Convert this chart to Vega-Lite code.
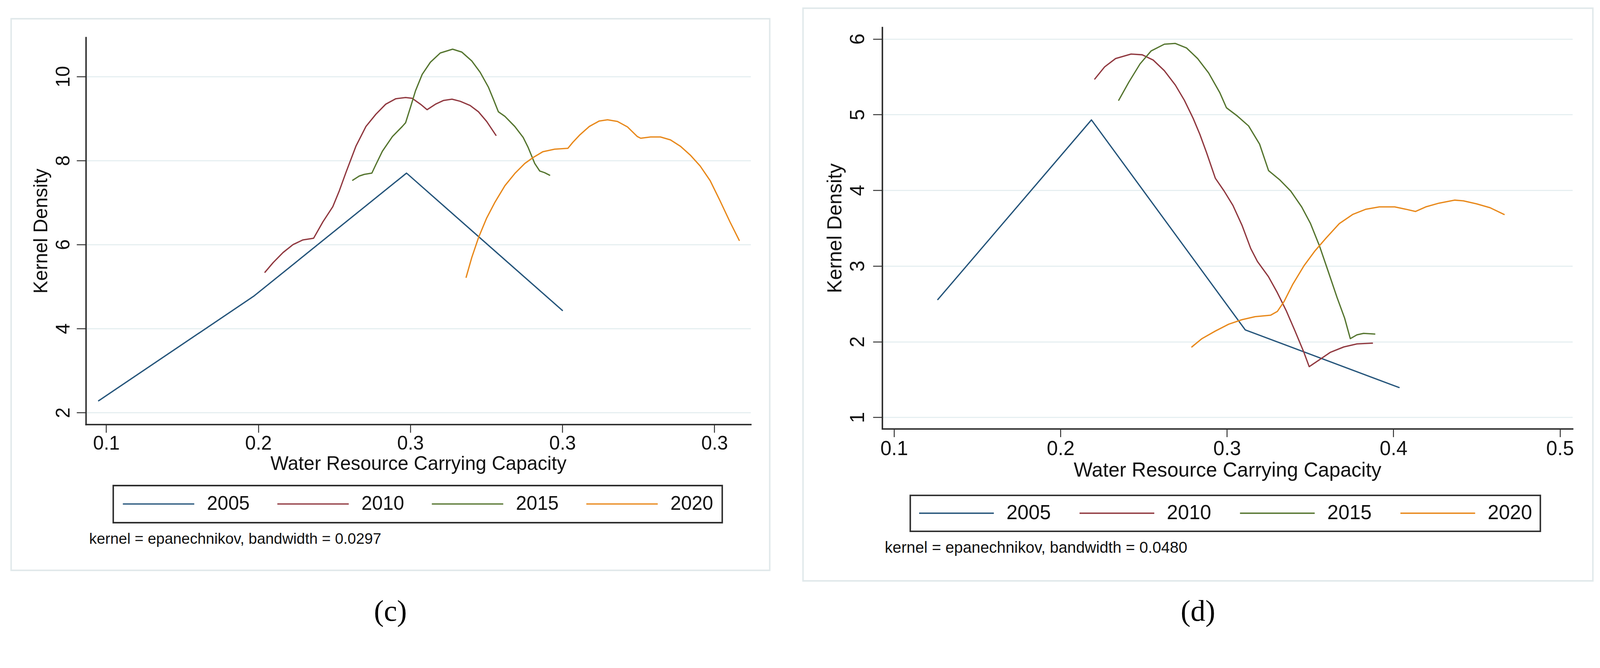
{
  "$schema": "https://vega.github.io/schema/vega-lite/v6.json",
  "background": "white",
  "padding": {"left": 26.5, "top": 19, "right": 0, "bottom": 0},
  "bounds": "flush",
  "center": true,
  "spacing": 85.2,
  "datasets": {
    "c": [
      {"year":"2005","x":0.095,"y":2.28},{"year":"2005","x":0.197,"y":4.77},{"year":"2005","x":0.2975,"y":7.70},{"year":"2005","x":0.400,"y":4.43},
      {"year":"2010","x":0.2044,"y":5.34},{"year":"2010","x":0.2098,"y":5.57},{"year":"2010","x":0.2163,"y":5.81},{"year":"2010","x":0.2229,"y":6.00},{"year":"2010","x":0.2294,"y":6.11},{"year":"2010","x":0.2364,"y":6.15},{"year":"2010","x":0.2425,"y":6.54},{"year":"2010","x":0.2490,"y":6.90},{"year":"2010","x":0.2533,"y":7.28},{"year":"2010","x":0.2577,"y":7.72},{"year":"2010","x":0.2642,"y":8.34},{"year":"2010","x":0.2708,"y":8.81},{"year":"2010","x":0.2773,"y":9.10},{"year":"2010","x":0.2838,"y":9.34},{"year":"2010","x":0.2904,"y":9.47},{"year":"2010","x":0.2969,"y":9.50},{"year":"2010","x":0.3012,"y":9.48},{"year":"2010","x":0.3067,"y":9.34},{"year":"2010","x":0.3110,"y":9.21},{"year":"2010","x":0.3165,"y":9.34},{"year":"2010","x":0.3219,"y":9.43},{"year":"2010","x":0.3274,"y":9.46},{"year":"2010","x":0.3328,"y":9.41},{"year":"2010","x":0.3393,"y":9.31},{"year":"2010","x":0.3448,"y":9.16},{"year":"2010","x":0.3502,"y":8.93},{"year":"2010","x":0.3563,"y":8.60},
      {"year":"2015","x":0.2621,"y":7.53},{"year":"2015","x":0.2664,"y":7.63},{"year":"2015","x":0.2697,"y":7.67},{"year":"2015","x":0.2747,"y":7.70},{"year":"2015","x":0.2773,"y":7.90},{"year":"2015","x":0.2816,"y":8.22},{"year":"2015","x":0.2882,"y":8.57},{"year":"2015","x":0.2947,"y":8.81},{"year":"2015","x":0.2969,"y":8.90},{"year":"2015","x":0.3002,"y":9.28},{"year":"2015","x":0.3034,"y":9.66},{"year":"2015","x":0.3078,"y":10.05},{"year":"2015","x":0.3132,"y":10.34},{"year":"2015","x":0.3197,"y":10.56},{"year":"2015","x":0.3278,"y":10.65},{"year":"2015","x":0.3339,"y":10.58},{"year":"2015","x":0.3404,"y":10.37},{"year":"2015","x":0.3459,"y":10.10},{"year":"2015","x":0.3513,"y":9.75},{"year":"2015","x":0.3546,"y":9.46},{"year":"2015","x":0.3579,"y":9.16},{"year":"2015","x":0.3622,"y":9.05},{"year":"2015","x":0.3687,"y":8.81},{"year":"2015","x":0.3742,"y":8.55},{"year":"2015","x":0.3775,"y":8.31},{"year":"2015","x":0.3818,"y":7.93},{"year":"2015","x":0.3851,"y":7.75},{"year":"2015","x":0.3883,"y":7.71},{"year":"2015","x":0.3916,"y":7.65},
      {"year":"2020","x":0.3367,"y":5.22},{"year":"2020","x":0.3404,"y":5.69},{"year":"2020","x":0.3448,"y":6.16},{"year":"2020","x":0.3502,"y":6.63},{"year":"2020","x":0.3557,"y":7.01},{"year":"2020","x":0.3622,"y":7.40},{"year":"2020","x":0.3687,"y":7.69},{"year":"2020","x":0.3753,"y":7.93},{"year":"2020","x":0.3807,"y":8.07},{"year":"2020","x":0.3872,"y":8.21},{"year":"2020","x":0.3949,"y":8.27},{"year":"2020","x":0.4036,"y":8.29},{"year":"2020","x":0.4068,"y":8.43},{"year":"2020","x":0.4112,"y":8.60},{"year":"2020","x":0.4177,"y":8.81},{"year":"2020","x":0.4242,"y":8.94},{"year":"2020","x":0.4297,"y":8.97},{"year":"2020","x":0.4362,"y":8.93},{"year":"2020","x":0.4428,"y":8.80},{"year":"2020","x":0.4493,"y":8.57},{"year":"2020","x":0.4515,"y":8.53},{"year":"2020","x":0.4580,"y":8.56},{"year":"2020","x":0.4645,"y":8.56},{"year":"2020","x":0.4711,"y":8.49},{"year":"2020","x":0.4776,"y":8.34},{"year":"2020","x":0.4841,"y":8.13},{"year":"2020","x":0.4906,"y":7.87},{"year":"2020","x":0.4972,"y":7.52},{"year":"2020","x":0.5037,"y":7.04},{"year":"2020","x":0.5102,"y":6.54},{"year":"2020","x":0.5163,"y":6.10}
    ],
    "d": [
      {"year":"2005","x":0.1263,"y":2.556},{"year":"2005","x":0.2186,"y":4.93},{"year":"2005","x":0.311,"y":2.155},{"year":"2005","x":0.4034,"y":1.394},
      {"year":"2010","x":0.2206,"y":5.47},{"year":"2010","x":0.2265,"y":5.63},{"year":"2010","x":0.2331,"y":5.74},{"year":"2010","x":0.2424,"y":5.80},{"year":"2010","x":0.2491,"y":5.79},{"year":"2010","x":0.2557,"y":5.72},{"year":"2010","x":0.2624,"y":5.58},{"year":"2010","x":0.2690,"y":5.39},{"year":"2010","x":0.2744,"y":5.19},{"year":"2010","x":0.2797,"y":4.95},{"year":"2010","x":0.2837,"y":4.74},{"year":"2010","x":0.2877,"y":4.50},{"year":"2010","x":0.2930,"y":4.16},{"year":"2010","x":0.2983,"y":3.99},{"year":"2010","x":0.3036,"y":3.80},{"year":"2010","x":0.3090,"y":3.54},{"year":"2010","x":0.3143,"y":3.23},{"year":"2010","x":0.3183,"y":3.06},{"year":"2010","x":0.3249,"y":2.86},{"year":"2010","x":0.3302,"y":2.65},{"year":"2010","x":0.3356,"y":2.41},{"year":"2010","x":0.3409,"y":2.14},{"year":"2010","x":0.3462,"y":1.86},{"year":"2010","x":0.3494,"y":1.67},{"year":"2010","x":0.3555,"y":1.76},{"year":"2010","x":0.3622,"y":1.86},{"year":"2010","x":0.3702,"y":1.93},{"year":"2010","x":0.3781,"y":1.97},{"year":"2010","x":0.3874,"y":1.98},
      {"year":"2015","x":0.2350,"y":5.19},{"year":"2015","x":0.2411,"y":5.43},{"year":"2015","x":0.2478,"y":5.67},{"year":"2015","x":0.2544,"y":5.84},{"year":"2015","x":0.2624,"y":5.93},{"year":"2015","x":0.2690,"y":5.94},{"year":"2015","x":0.2757,"y":5.88},{"year":"2015","x":0.2824,"y":5.74},{"year":"2015","x":0.2890,"y":5.55},{"year":"2015","x":0.2957,"y":5.29},{"year":"2015","x":0.2997,"y":5.09},{"year":"2015","x":0.3063,"y":4.98},{"year":"2015","x":0.3130,"y":4.85},{"year":"2015","x":0.3196,"y":4.61},{"year":"2015","x":0.3250,"y":4.26},{"year":"2015","x":0.3316,"y":4.14},{"year":"2015","x":0.3383,"y":3.99},{"year":"2015","x":0.3449,"y":3.78},{"year":"2015","x":0.3502,"y":3.56},{"year":"2015","x":0.3555,"y":3.27},{"year":"2015","x":0.3608,"y":2.93},{"year":"2015","x":0.3662,"y":2.58},{"year":"2015","x":0.3707,"y":2.31},{"year":"2015","x":0.3741,"y":2.04},{"year":"2015","x":0.3781,"y":2.09},{"year":"2015","x":0.3821,"y":2.11},{"year":"2015","x":0.3888,"y":2.10},
      {"year":"2020","x":0.2789,"y":1.93},{"year":"2020","x":0.2850,"y":2.04},{"year":"2020","x":0.2930,"y":2.14},{"year":"2020","x":0.3010,"y":2.23},{"year":"2020","x":0.3090,"y":2.29},{"year":"2020","x":0.3169,"y":2.33},{"year":"2020","x":0.3263,"y":2.35},{"year":"2020","x":0.3303,"y":2.40},{"year":"2020","x":0.3343,"y":2.53},{"year":"2020","x":0.3396,"y":2.76},{"year":"2020","x":0.3462,"y":3.00},{"year":"2020","x":0.3529,"y":3.20},{"year":"2020","x":0.3596,"y":3.37},{"year":"2020","x":0.3675,"y":3.56},{"year":"2020","x":0.3755,"y":3.68},{"year":"2020","x":0.3835,"y":3.75},{"year":"2020","x":0.3915,"y":3.78},{"year":"2020","x":0.4008,"y":3.78},{"year":"2020","x":0.4074,"y":3.75},{"year":"2020","x":0.4133,"y":3.72},{"year":"2020","x":0.4194,"y":3.78},{"year":"2020","x":0.4274,"y":3.83},{"year":"2020","x":0.4367,"y":3.87},{"year":"2020","x":0.4420,"y":3.86},{"year":"2020","x":0.4500,"y":3.82},{"year":"2020","x":0.4580,"y":3.77},{"year":"2020","x":0.4665,"y":3.68}
    ]
  },
  "hconcat": [
    {
      "width": 1942,
      "height": 1412,
      "title": {"text": "(c)", "orient": "bottom", "anchor": "middle", "frame": "group", "font": "Liberation Serif", "fontSize": 76, "fontWeight": "normal", "color": "#000000", "baseline": "alphabetic", "offset": 129},
      "layer": [
        {
          "data": {"name": "c"},
          "mark": {"type": "line", "strokeWidth": 3.3, "strokeJoin": "round", "strokeCap": "round"},
          "encoding": {
            "x": {"field": "x", "type": "quantitative",
                  "scale": {"domain": [0.0866, 0.5238], "range": [191.3, 1893.1], "nice": false, "zero": false},
                  "axis": {"title": "Water Resource Carrying Capacity", "values": [0.1, 0.2, 0.3, 0.4, 0.5],
                           "labelExpr": "datum.value > 0.35 ? '0.3' : format(datum.value, '.1f')",
                           "offset": -373.6, "tickSize": 20.8, "labelPadding": 43.6, "titleY": 116.5,
                           "labelFontSize": 49.2, "titleFontSize": 49.2, "grid": false}},
            "y": {"field": "y", "type": "quantitative",
                  "scale": {"domain": [1.718, 10.93], "range": [1038.4, 47.8], "nice": false, "zero": false},
                  "axis": {"title": "Kernel Density", "values": [2, 4, 6, 8, 10], "format": "d",
                           "offset": -191.3, "tickSize": 23.7, "labelPadding": 18.9, "titleX": -99.4,
                           "labelFontSize": 49.2, "titleFontSize": 49.2, "grid": true}},
            "color": {"field": "year", "type": "nominal",
                      "scale": {"domain": ["2005", "2010", "2015", "2020"], "range": ["#24547a", "#90383f", "#55752f", "#e8881a"]},
                      "legend": {"title": null, "legendX": 261.4, "legendY": 1195, "symbolSize": 33415, "labelFontSize": 49.2, "columnPadding": 68.5, "padding": 22.5}}
          }
        },
        {
          "data": {"values": [{"note": "kernel = epanechnikov, bandwidth = 0.0297"}]},
          "mark": {"type": "text", "align": "left", "baseline": "alphabetic", "fontSize": 38.8, "font": "Liberation Sans", "color": "#111111"},
          "encoding": {
            "x": {"datum": 0.0888, "type": "quantitative"},
            "y": {"datum": -1.12, "type": "quantitative"},
            "text": {"field": "note"}
          }
        }
      ]
    },
    {
      "width": 2022,
      "height": 1466,
      "title": {"text": "(d)", "orient": "bottom", "anchor": "middle", "frame": "group", "font": "Liberation Serif", "fontSize": 76, "fontWeight": "normal", "color": "#000000", "baseline": "alphabetic", "offset": 102.3},
      "layer": [
        {
          "data": {"name": "d"},
          "mark": {"type": "line", "strokeWidth": 3.3, "strokeJoin": "round", "strokeCap": "round"},
          "encoding": {
            "x": {"field": "x", "type": "quantitative",
                  "scale": {"domain": [0.09289, 0.50756], "range": [202.7, 1969.8], "nice": false, "zero": false},
                  "axis": {"title": "Water Resource Carrying Capacity", "values": [0.1, 0.2, 0.3, 0.4, 0.5],
                           "format": ".1f",
                           "offset": -389.3, "tickSize": 20.8, "labelPadding": 45.5, "titleY": 122.2,
                           "labelFontSize": 51.1, "titleFontSize": 51.1, "grid": false}},
            "y": {"field": "y", "type": "quantitative",
                  "scale": {"domain": [0.8485, 6.1515], "range": [1076.7, 49.2], "nice": false, "zero": false},
                  "axis": {"title": "Kernel Density", "values": [1, 2, 3, 4, 5, 6], "format": "d",
                           "offset": -202.7, "tickSize": 23.7, "labelPadding": 23.7, "titleX": -105.1,
                           "labelFontSize": 51.1, "titleFontSize": 51.1, "grid": true}},
            "color": {"field": "year", "type": "nominal",
                      "scale": {"domain": ["2005", "2010", "2015", "2020"], "range": ["#24547a", "#90383f", "#55752f", "#e8881a"]},
                      "legend": {"title": null, "legendX": 274.6, "legendY": 1247.2, "symbolSize": 36595, "labelFontSize": 51.1, "columnPadding": 71.7}}
          }
        },
        {
          "data": {"values": [{"note": "kernel = epanechnikov, bandwidth = 0.0480"}]},
          "mark": {"type": "text", "align": "left", "baseline": "alphabetic", "fontSize": 40.2, "font": "Liberation Sans", "color": "#111111"},
          "encoding": {
            "x": {"datum": 0.09444, "type": "quantitative"},
            "y": {"datum": -0.789, "type": "quantitative"},
            "text": {"field": "note"}
          }
        }
      ]
    }
  ],
  "resolve": {"scale": {"color": "independent"}, "legend": {"color": "independent"}},
  "config": {
    "font": "Liberation Sans",
    "view": {"stroke": "#e1e9eb", "strokeWidth": 3.8},
    "title": {"font": "Liberation Serif"},
    "axis": {
      "domainColor": "#2e2e2e", "domainWidth": 3.8, "domainCap": "square",
      "tickColor": "#2e2e2e", "tickWidth": 2.4,
      "labelColor": "#111111", "titleColor": "#111111",
      "labelFont": "Liberation Sans", "titleFont": "Liberation Sans", "titleFontWeight": "normal",
      "gridColor": "#e6eff1", "gridWidth": 2.8,
      "labelFlush": false, "labelOverlap": false, "labelBound": false,
      "titleBaseline": "alphabetic"
    },
    "axisX": {"labelBaseline": "alphabetic", "labelAngle": 0, "labelAlign": "center"},
    "axisY": {"labelAlign": "center", "labelBaseline": "alphabetic", "labelAngle": 270},
    "legend": {
      "orient": "none", "direction": "horizontal", "columns": 4,
      "labelFont": "Liberation Sans", "labelColor": "#111111", "labelLimit": 400,
      "symbolType": "stroke", "symbolStrokeWidth": 3.3,
      "strokeColor": "#2e2e2e", "strokeWidth": 3.8,
      "labelOffset": 30.3, "padding": 20.8, "clipHeight": 49.2
    }
  }
}
